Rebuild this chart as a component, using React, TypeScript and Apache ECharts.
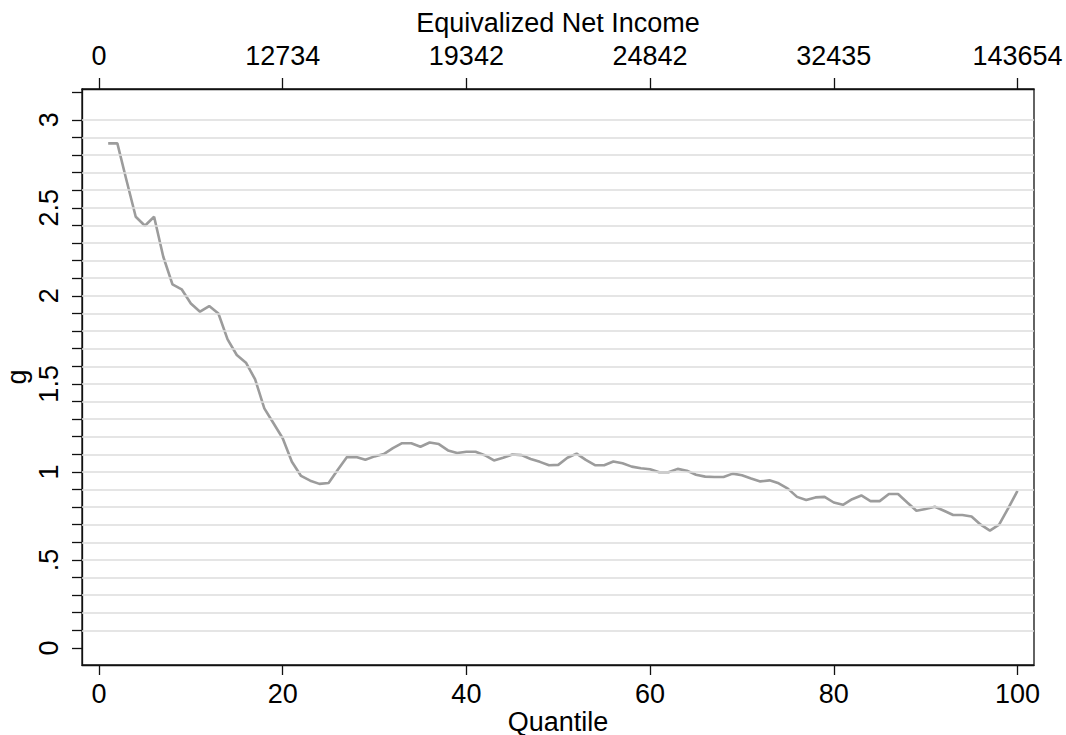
import React, { useEffect, useRef } from "react";
import * as echarts from "echarts";

// g by income quantile (quantiles 1..100)
const gValues: number[] = [
  2.866, 2.866, 2.655, 2.449, 2.398, 2.449, 2.222, 2.065, 2.037, 1.957,
  1.910, 1.942, 1.900, 1.753, 1.664, 1.620, 1.526, 1.361, 1.276, 1.191,
  1.058, 0.977, 0.950, 0.932, 0.937, 1.012, 1.084, 1.084, 1.069, 1.088,
  1.101, 1.135, 1.163, 1.163, 1.143, 1.167, 1.158, 1.122, 1.107, 1.114,
  1.114, 1.095, 1.065, 1.080, 1.099, 1.095, 1.073, 1.057, 1.038, 1.040,
  1.080, 1.104, 1.068, 1.038, 1.038, 1.059, 1.049, 1.030, 1.021, 1.015,
  0.998, 0.998, 1.017, 1.007, 0.984, 0.973, 0.971, 0.971, 0.990, 0.981,
  0.963, 0.946, 0.952, 0.935, 0.905, 0.858, 0.840, 0.855, 0.858, 0.826,
  0.813, 0.845, 0.866, 0.834, 0.834, 0.874, 0.874, 0.826, 0.779, 0.789,
  0.802, 0.779, 0.755, 0.755, 0.747, 0.700, 0.666, 0.700, 0.794, 0.892,
];

// bottom axis (quantile) ticks
const quantileTicks: number[] = [0, 20, 40, 60, 80, 100];
// top axis: equivalized net income at the same quantile positions
const incomeLabels: string[] = ["0", "12734", "19342", "24842", "32435", "143654"];

// y axis labels and ticks
const yLabelValues: number[] = [0, 0.5, 1, 1.5, 2, 2.5, 3];
const yLabelTexts: string[] = ["0", ".5", "1", "1.5", "2", "2.5", "3"];
const yTickValues: number[] = [
  0, 0.1, 0.2, 0.3, 0.4, 0.5, 0.6, 0.7, 0.8, 0.9, 1, 1.1, 1.2, 1.3, 1.4, 1.5,
  1.6, 1.7, 1.8, 1.9, 2, 2.1, 2.2, 2.3, 2.4, 2.5, 2.6, 2.7, 2.8, 2.9, 3, 3.155,
];
const yGridValues: number[] = [
  0.1, 0.2, 0.3, 0.4, 0.5, 0.6, 0.7, 0.8, 0.9, 1, 1.1, 1.2, 1.3, 1.4, 1.5,
  1.6, 1.7, 1.8, 1.9, 2, 2.1, 2.2, 2.3, 2.4, 2.5, 2.6, 2.7, 2.8, 2.9, 3,
];

const X_MIN = -1.85;
const X_MAX = 101.8;
const Y_MIN = -0.097;
const Y_MAX = 3.175;

const FONT = "'Liberation Sans', Arial, Helvetica, sans-serif";
const FS = 27;
const AXIS_COLOR = "#111";

export default function App() {
  const ref = useRef<HTMLDivElement>(null);

  useEffect(() => {
    if (!ref.current) return;
    const chart = echarts.init(ref.current, undefined, { renderer: "svg" });

    const textStyle = { fontFamily: FONT, fontSize: FS, color: "#000" };
    const lineData = gValues.map((v, i) => [i + 1, v]);
    const axisLine = { show: true, onZero: false, lineStyle: { color: AXIS_COLOR, width: 1.3 } };

    chart.setOption({
      animation: false,
      backgroundColor: "#fff",
      textStyle: { fontFamily: FONT },
      grid: {
        left: 82,
        right: 32,
        top: 89,
        bottom: 70,
        show: true,
        borderColor: AXIS_COLOR,
        borderWidth: 1.3,
        backgroundColor: "transparent",
        outerBoundsMode: "none",
        containLabel: false,
      },
      xAxis: [
        {
          type: "value",
          position: "bottom",
          min: X_MIN,
          max: X_MAX,
          name: "Quantile",
          nameLocation: "middle",
          nameGap: 43,
          nameMoveOverlap: false,
          nameTextStyle: textStyle,
          axisLine,
          axisTick: {
            show: true,
            inside: false,
            length: 10,
            customValues: quantileTicks,
            lineStyle: { color: AXIS_COLOR, width: 1.3 },
          },
          axisLabel: {
            show: true,
            margin: 15,
            customValues: quantileTicks,
            formatter: (v: number) => String(v),
            ...textStyle,
          },
          splitLine: { show: false },
        },
        {
          type: "value",
          position: "top",
          min: X_MIN,
          max: X_MAX,
          name: "Equivalized Net Income",
          nameLocation: "middle",
          nameGap: 53,
          nameMoveOverlap: false,
          nameTextStyle: textStyle,
          axisLine,
          axisTick: {
            show: true,
            inside: false,
            length: 11,
            customValues: quantileTicks,
            lineStyle: { color: AXIS_COLOR, width: 1.3 },
          },
          axisLabel: {
            show: true,
            margin: 20,
            customValues: quantileTicks,
            formatter: (v: number) => {
              const idx = quantileTicks.indexOf(Math.round(v));
              return idx >= 0 ? incomeLabels[idx] : "";
            },
            ...textStyle,
          },
          splitLine: { show: false },
        },
      ],
      yAxis: {
        type: "value",
        min: Y_MIN,
        max: Y_MAX,
        name: "g",
        nameLocation: "middle",
        nameGap: 52,
        nameMoveOverlap: false,
        nameRotate: 90,
        nameTextStyle: textStyle,
        axisLine,
        axisTick: {
          show: true,
          inside: false,
          length: 10,
          customValues: yTickValues,
          lineStyle: { color: AXIS_COLOR, width: 1.3 },
        },
        axisLabel: {
          show: true,
          rotate: 90,
          margin: 20,
          customValues: yLabelValues,
          formatter: (v: number) => {
            const idx = yLabelValues.findIndex((t) => Math.abs(t - v) < 1e-6);
            return idx >= 0 ? yLabelTexts[idx] : "";
          },
          ...textStyle,
        },
        splitLine: { show: false },
      },
      series: [
        {
          // horizontal grid lines
          type: "line",
          data: [],
          z: 1,
          silent: true,
          markLine: {
            silent: true,
            symbol: ["none", "none"],
            label: { show: false },
            lineStyle: { color: "#dcdcdc", width: 1.6, type: "solid" },
            emphasis: { disabled: true },
            data: yGridValues.map((v) => ({ yAxis: v })),
          },
        },
        {
          type: "line",
          data: lineData,
          z: 3,
          showSymbol: false,
          symbol: "none",
          lineStyle: { color: "#9c9c9c", width: 2.6 },
          silent: true,
        },
      ],
    });

    return () => chart.dispose();
  }, []);

  return (
    <div
      ref={ref}
      style={{ position: "fixed", left: 0, top: 0, width: 1066, height: 735, background: "#fff" }}
    />
  );
}
